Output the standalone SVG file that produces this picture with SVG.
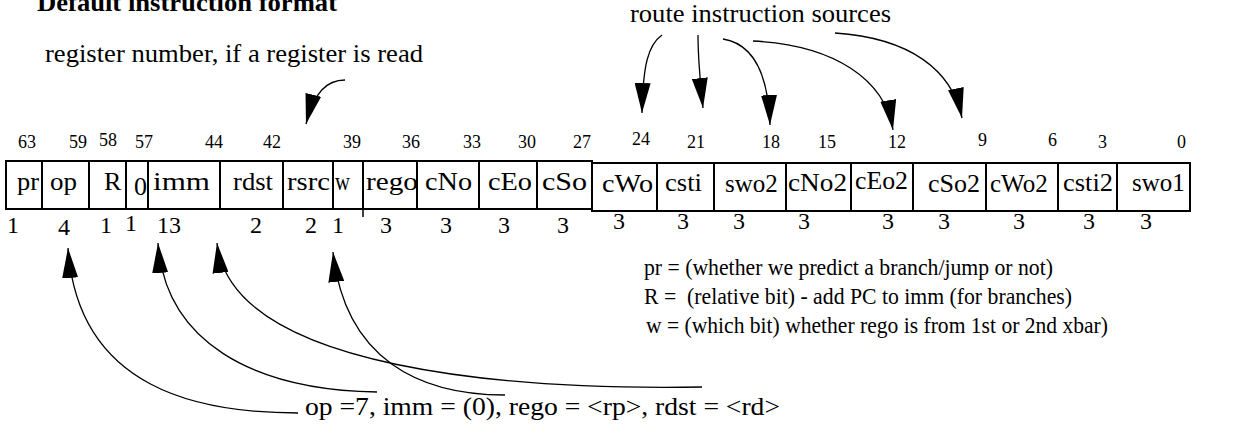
<svg xmlns="http://www.w3.org/2000/svg" width="1239" height="427" viewBox="0 0 1239 427">
<defs>
<style>
text{font-family:"Liberation Serif","Times New Roman",serif;fill:#000}
.t{font-size:25px}
.lg{font-size:23px;white-space:pre}
.title{font-size:25px;font-weight:bold}
.lab{font-size:25px}
.labL{font-size:26px}
.bit{font-size:18px}
.wid{font-size:24px}
.f{fill:none;stroke:#000;stroke-width:2}
.c{fill:none;stroke:#000;stroke-width:1.3}
</style>
<marker id="ah" viewBox="0 0 30 16" refX="30" refY="8" markerWidth="30" markerHeight="16" markerUnits="userSpaceOnUse" orient="auto">
<path d="M0,0 L30,8 L0,16 z" fill="#000"/>
</marker>
</defs>
<rect width="1239" height="427" fill="#fff"/>

<text class="title" x="37" y="11" textLength="300" lengthAdjust="spacingAndGlyphs">Default instruction format</text>
<text class="t" x="45" y="62" textLength="378" lengthAdjust="spacingAndGlyphs">register number, if a register is read</text>
<text class="t" x="630" y="22" textLength="261" lengthAdjust="spacingAndGlyphs">route instruction sources</text>

<g id="bitnums" class="bit">
<text x="18" y="148">63</text><text x="69" y="148">59</text><text x="99" y="146">58</text><text x="135" y="148">57</text>
<text x="205" y="148">44</text><text x="263" y="148">42</text><text x="343" y="148">39</text><text x="402" y="148">36</text>
<text x="463" y="148">33</text><text x="518" y="148">30</text><text x="573" y="148">27</text><text x="632" y="145">24</text>
<text x="687" y="148">21</text><text x="762" y="148">18</text><text x="818" y="148">15</text><text x="888" y="148">12</text>
<text x="978" y="146">9</text><text x="1048" y="146">6</text><text x="1098" y="148">3</text><text x="1177" y="148">0</text>
</g>

<g id="f-pr"><rect class="f" x="6" y="161" width="36" height="48"/><text class="labL" x="17" y="190" textLength="22" lengthAdjust="spacingAndGlyphs">pr</text></g>
<g id="f-op"><rect class="f" x="42" y="161" width="47" height="48"/><text class="labL" x="50" y="190" textLength="27" lengthAdjust="spacingAndGlyphs">op</text></g>
<g id="f-R"><rect class="f" x="89" y="161" width="37" height="48"/><text class="labL" x="104" y="190">R</text></g>
<g id="f-0"><rect class="f" x="126" y="161" width="22" height="48"/><text class="labL" x="134" y="195">0</text></g>
<g id="f-imm"><rect class="f" x="148" y="161" width="72" height="48"/><text class="labL" x="153" y="190" textLength="57" lengthAdjust="spacingAndGlyphs">imm</text></g>
<g id="f-rdst"><rect class="f" x="220" y="161" width="63" height="48"/><text class="labL" x="233" y="190" textLength="40" lengthAdjust="spacingAndGlyphs">rdst</text></g>
<g id="f-rsrc"><rect class="f" x="283" y="161" width="50" height="48"/><text class="labL" x="287" y="190" textLength="43" lengthAdjust="spacingAndGlyphs">rsrc</text></g>
<g id="f-w"><rect class="f" x="333" y="161" width="30" height="48"/><text class="labL" x="335" y="190" textLength="15" lengthAdjust="spacingAndGlyphs">w</text></g>
<g id="f-rego"><rect class="f" x="363" y="161" width="54" height="48"/><text class="labL" x="366" y="190" textLength="52" lengthAdjust="spacingAndGlyphs">rego</text></g>
<g id="f-cNo"><rect class="f" x="417" y="161" width="62" height="48"/><text class="labL" x="425" y="190" textLength="47" lengthAdjust="spacingAndGlyphs">cNo</text></g>
<g id="f-cEo"><rect class="f" x="479" y="161" width="58" height="48"/><text class="labL" x="488" y="190" textLength="44" lengthAdjust="spacingAndGlyphs">cEo</text></g>
<g id="f-cSo"><rect class="f" x="537" y="161" width="55" height="48"/><text class="labL" x="542" y="190" textLength="45" lengthAdjust="spacingAndGlyphs">cSo</text></g>
<g id="f-cWo"><rect class="f" x="592" y="163" width="65" height="48"/><text class="lab" x="602" y="192" textLength="51" lengthAdjust="spacingAndGlyphs">cWo</text></g>
<g id="f-csti"><rect class="f" x="657" y="163" width="57" height="48"/><text class="lab" x="665" y="191" textLength="37" lengthAdjust="spacingAndGlyphs">csti</text></g>
<g id="f-swo2"><rect class="f" x="714" y="163" width="72" height="48"/><text class="lab" x="725" y="192">swo2</text></g>
<g id="f-cNo2"><rect class="f" x="786" y="163" width="65" height="48"/><text class="lab" x="788" y="191" textLength="59" lengthAdjust="spacingAndGlyphs">cNo2</text></g>
<g id="f-cEo2"><rect class="f" x="851" y="163" width="62" height="48"/><text class="lab" x="855" y="189" textLength="53" lengthAdjust="spacingAndGlyphs">cEo2</text></g>
<g id="f-cSo2"><rect class="f" x="913" y="163" width="73" height="48"/><text class="lab" x="928" y="192" textLength="52" lengthAdjust="spacingAndGlyphs">cSo2</text></g>
<g id="f-cWo2"><rect class="f" x="986" y="163" width="72" height="48"/><text class="lab" x="990" y="192">cWo2</text></g>
<g id="f-csti2"><rect class="f" x="1058" y="163" width="59" height="48"/><text class="lab" x="1063" y="191" textLength="50" lengthAdjust="spacingAndGlyphs">csti2</text></g>
<g id="f-swo1"><rect class="f" x="1117" y="163" width="73" height="48"/><text class="lab" x="1132" y="191">swo1</text></g>
<line x1="363" y1="209" x2="363" y2="217" stroke="#000" stroke-width="1.5"/>

<g id="widths" class="wid">
<text x="7" y="233">1</text><text x="58" y="235">4</text><text x="100" y="233">1</text><text x="125" y="231">1</text>
<text x="157" y="233">13</text><text x="250" y="233">2</text><text x="305" y="233">2</text><text x="332" y="233">1</text>
<text x="380" y="233">3</text><text x="440" y="233">3</text><text x="498" y="233">3</text><text x="557" y="233">3</text>
<text x="613" y="229">3</text><text x="677" y="229">3</text><text x="733" y="229">3</text><text x="798" y="229">3</text>
<text x="882" y="229">3</text><text x="938" y="229">3</text><text x="1013" y="229">3</text><text x="1083" y="229">3</text>
<text x="1140" y="229">3</text>
</g>

<g id="legend" class="lg">
<text x="644" y="275" textLength="409" lengthAdjust="spacingAndGlyphs">pr = (whether we predict a branch/jump or not)</text>
<text x="644" y="304" textLength="428" lengthAdjust="spacingAndGlyphs" xml:space="preserve">R =  (relative bit) - add PC to imm (for branches)</text>
<text x="646" y="333" textLength="462" lengthAdjust="spacingAndGlyphs">w = (which bit) whether rego is from 1st or 2nd xbar)</text>
</g>

<text id="note" class="t" x="305" y="415" textLength="475" lengthAdjust="spacingAndGlyphs">op =7, imm = (0), rego = &lt;rp&gt;, rdst = &lt;rd&gt;</text>

<g id="connectors" class="c">
<path class="c" marker-end="url(#ah)" d="M345,80 C327,80 314,92 306,124"/>
<path class="c" marker-end="url(#ah)" d="M662,35 C648,45 643,65 642,113"/>
<path class="c" marker-end="url(#ah)" d="M698,35 C698,60 700,80 703,108"/>
<path class="c" marker-end="url(#ah)" d="M723,39 C748,43 768,65 770,125"/>
<path class="c" marker-end="url(#ah)" d="M753,41 C835,45 885,80 893,130"/>
<path class="c" marker-end="url(#ah)" d="M835,33 C910,38 952,70 962,118"/>
<path class="c" marker-end="url(#ah)" d="M298,413 C200,413 78,390 68,248"/>
<path class="c" marker-end="url(#ah)" d="M377,392 C250,390 165,340 158,243"/>
<path class="c" marker-end="url(#ah)" d="M702,387 C520,390 232,372 217,243"/>
<path class="c" marker-end="url(#ah)" d="M505,395 C420,395 345,360 333,252"/>
</g>
</svg>
